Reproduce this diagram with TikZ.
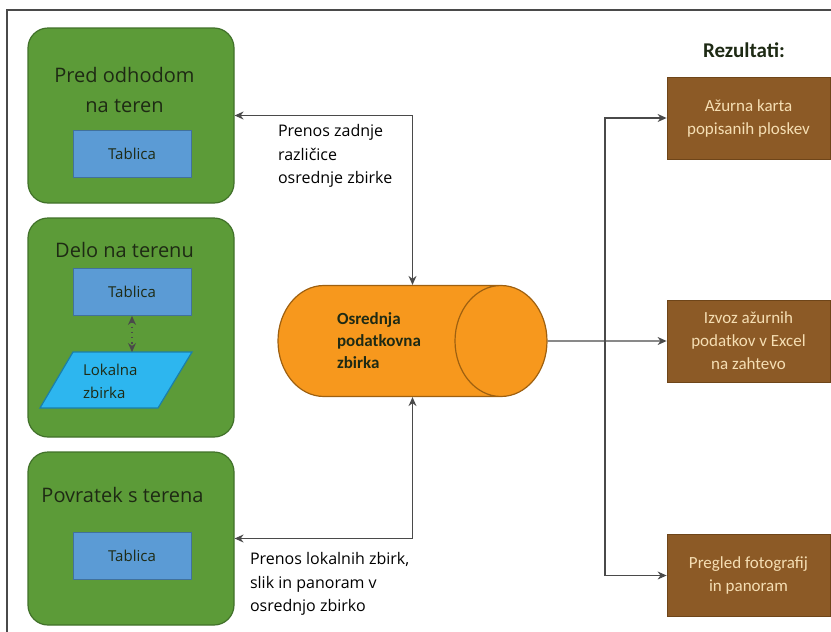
\documentclass[tikz,border=0pt]{standalone}
\usepackage{fontspec}
\setmainfont{Open Sans}
\newfontfamily\calib{Carlito}
\usetikzlibrary{arrows.meta,shapes.geometric}

\definecolor{zelena}{HTML}{5C9B38}
\definecolor{zelenarob}{HTML}{41712A}
\definecolor{modra}{HTML}{5B9BD5}
\definecolor{modrarob}{HTML}{41719C}
\definecolor{svetlomodra}{HTML}{2DB6EF}
\definecolor{svetlomodrarob}{HTML}{1A7FAA}
\definecolor{oranz}{HTML}{F7981D}
\definecolor{oranzrob}{HTML}{9E6010}
\definecolor{rjava}{HTML}{8C5A26}
\definecolor{rjavarob}{HTML}{6E4519}
\definecolor{krem}{HTML}{F5DEB3}
\definecolor{temno}{HTML}{1E2A14}
\definecolor{siva}{HTML}{4A4A4A}

\tikzset{
	faza/.style={draw=zelenarob, fill=zelena, rounded corners=10pt, minimum width=103pt, line width=0.6pt},
	naslov/.style={align=center, text=temno, font=\fontsize{10}{15}\selectfont},
	tablica/.style={draw=modrarob, fill=modra, minimum width=59pt, minimum height=23.5pt, text=temno, font=\fontsize{7.5}{9}\selectfont},
	rezultat/.style={draw=rjavarob, fill=rjava, minimum width=81.5pt, minimum height=41pt, align=center, text=krem, font=\calib\fontsize{8.5}{11.5}\selectfont},
	opis/.style={align=left, font=\fontsize{8}{11.75}\selectfont},
	povezava/.style={draw=siva, line width=0.6pt}
}

\begin{document}
\begin{tikzpicture}[x=0.5pt,y=-0.5pt,>={Stealth[length=4.5pt,width=4pt]}]
	\useasboundingbox (0,0) rectangle (831,632);

	%okvir
	\draw[siva,line width=0.6pt] (7,632) -- (7,10) -- (831,10);

	% faze
	\node[faza, minimum height=87.5pt] (g1) at (131,115.5) {};
	\node[faza, minimum height=109.5pt] (g2) at (131,327.5) {};
	\node[faza, minimum height=86.5pt] (g3) at (131,538.5) {};
	%%% vsebina faz
	\node[naslov] (t1) at (124.5,90) {Pred odhodom\\na teren};
	\node[tablica] (tab1) at (132,153.5) {Tablica};
	\node[naslov] (t2) at (124.5,250) {Delo na terenu};
	\node[tablica] (tab2) at (132,292) {Tablica};
	\filldraw[draw=svetlomodrarob, fill=svetlomodra, line width=0.6pt] (73,352) -- (192,352) -- (158,408) -- (40,408) -- cycle;
	\coordinate (lokvrh) at (132,352);
	\node[anchor=west, align=left, text=temno, font=\fontsize{7.5}{11.5}\selectfont] (lok) at (76,381) {Lokalna\\zbirka};
	\draw[povezava, dotted, <->] (tab2.south) -- (lokvrh);
	\node[naslov] (t3) at (122.5,495) {Povratek s terena};
	\node[tablica] (tab3) at (132,556) {Tablica};

	% osrednja zbirka
	\node[cylinder, shape aspect=6.9, anchor=shape center, draw=oranzrob, fill=oranz, line width=0.6pt,
		minimum width=55.5pt, minimum height=134.5pt] (db) at (412.5,341) {};
	\node[anchor=west, align=left, font=\calib\bfseries\fontsize{8.5}{11}\selectfont, text=temno] (dbtxt) at (330,341) {Osrednja\\podatkovna\\zbirka};

	% rezultati
	\node[font=\calib\bfseries\fontsize{10.5}{12}\selectfont, text=temno] (rez) at (744,50) {Rezultati:};
	\node[rezultat] (r1) at (748.5,118) {Ažurna karta\\popisanih ploskev};
	\node[rezultat] (r2) at (748.5,341) {Izvoz ažurnih\\podatkov v Excel\\na zahtevo};
	\node[rezultat] (r3) at (748.5,575.5) {Pregled fotografij\\in panoram};

	% povezave
	\draw[povezava, <->] (g1.east) -| (db.shape center |- db.north);
	\node[opis, anchor=west] (op1) at (271,156) {Prenos zadnje\\različice\\osrednje zbirke};
	\draw[povezava, <->] (g3.east) -| (db.shape center |- db.south);
	\node[opis, anchor=west] (op2) at (243,584) {Prenos lokalnih zbirk,\\slik in panoram v\\osrednjo zbirko};
	%%% veje do rezultatov
	\coordinate (razcep) at (605,341);
	\draw[povezava, ->] (db.east) -- (r2.west);
	\draw[povezava, <->] (r1.west) -| (razcep) |- (r3.west);
\end{tikzpicture}
\end{document}
